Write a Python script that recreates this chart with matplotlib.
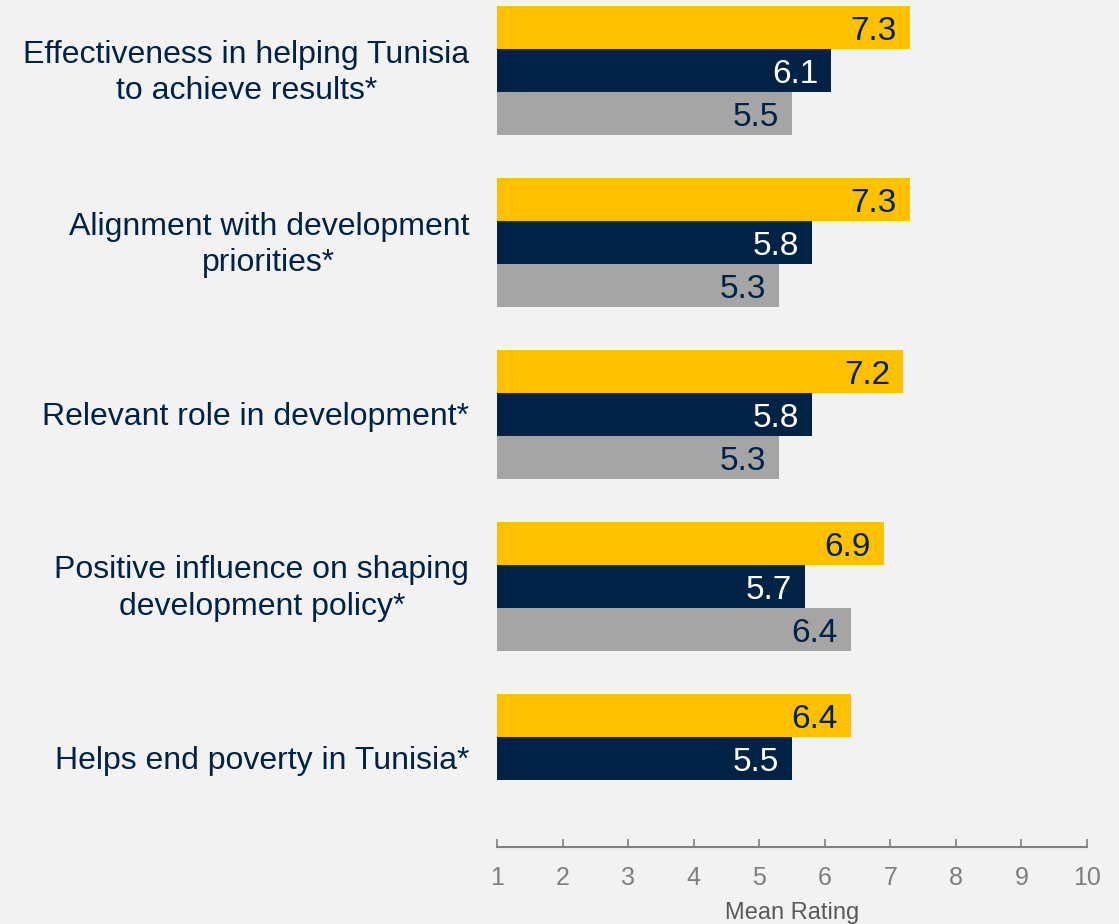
import matplotlib
matplotlib.use("Agg")
import matplotlib.pyplot as plt

categories = [
    "Effectiveness in helping Tunisia\nto achieve results*",
    "Alignment with development\npriorities*",
    "Relevant role in development*",
    "Positive influence on shaping\ndevelopment policy*",
    "Helps end poverty in Tunisia*",
]
series_yellow = [7.3, 7.3, 7.2, 6.9, 6.4]
series_navy = [6.1, 5.8, 5.8, 5.7, 5.5]
series_gray = [5.5, 5.3, 5.3, 6.4, None]
xticks = [1, 2, 3, 4, 5, 6, 7, 8, 9, 10]

YELLOW = "#FFC000"
NAVY = "#002245"
GRAY = "#A5A5A5"
BG = "#F2F2F2"

plt.rcParams['font.family'] = ['Liberation Sans', 'DejaVu Sans']

W, H = 1119, 924
fig = plt.figure(figsize=(W / 100, H / 100), dpi=100, facecolor=BG)
ax = fig.add_axes([497 / W, (H - 847) / H, (1087 - 497) / W, 847 / H])
ax.set_facecolor(BG)

base = 1
series = [(series_yellow, YELLOW, NAVY), (series_navy, NAVY, "white"), (series_gray, GRAY, NAVY)]
for gi in range(len(categories)):
    for si, (vals, col, tcol) in enumerate(series):
        v = vals[gi]
        if v is None:
            continue
        y = 4 * gi + si
        ax.barh(y, v - base, left=base, height=1.0, color=col, edgecolor="none")
        ax.text(v - 0.2, y + 0.09, f"{v:.1f}", ha="right", va="center",
                color=tcol, fontsize=24)
    ax.text(-0.047, 4 * gi + 1.04, categories[gi], transform=ax.get_yaxis_transform(),
            ha="right", va="center", multialignment="center", color=NAVY,
            fontsize=23, linespacing=1.27)

ax.set_xlim(1, 10)
ax.set_ylim(19.05, -0.65)
ax.set_yticks([])
ax.set_xticks(xticks)
ax.set_xticklabels([str(t) for t in xticks])
for s in ["top", "right", "left"]:
    ax.spines[s].set_visible(False)
ax.spines["bottom"].set_color("#808080")
ax.spines["bottom"].set_linewidth(1.5)
ax.tick_params(axis="x", direction="in", length=6, width=1.2, color="#808080",
               labelcolor="#7F7F7F", labelsize=18, pad=14)
ax.set_xlabel("Mean Rating", color="#595959", fontsize=17, labelpad=8)

fig.savefig("out.png", dpi=100, facecolor=BG)
